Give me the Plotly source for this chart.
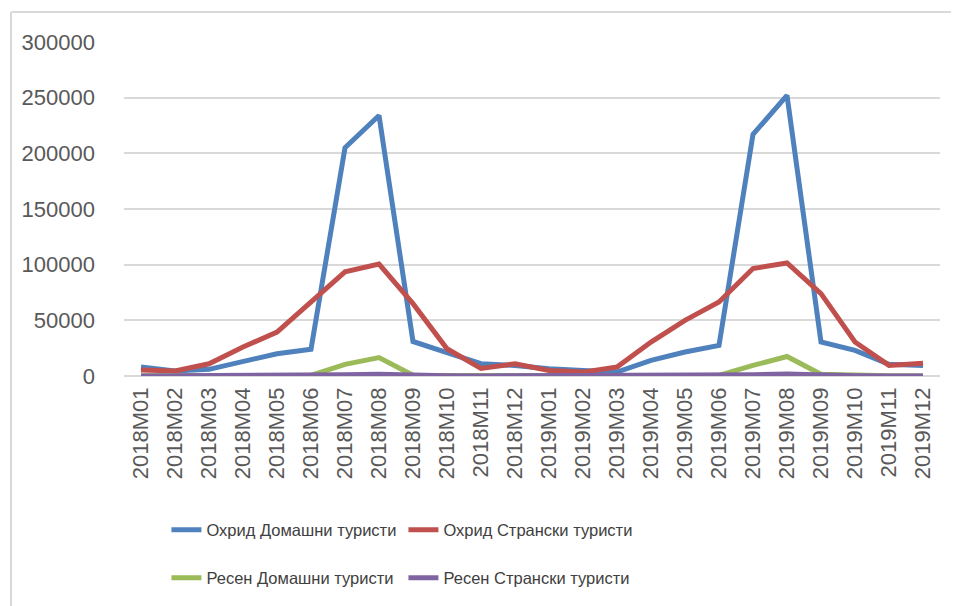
import plotly.graph_objects as go

months = [f"{y}M{m:02d}" for y in (2018, 2019) for m in range(1, 13)]

ohrid_dom = [8000, 4500, 6000, 12500, 20000, 24000, 205000, 234000, 31000, 21000, 11000, 9500,
             6500, 5000, 3500, 14000, 21500, 27500, 217000, 252000, 30500, 23000, 10500, 9500]
ohrid_str = [5500, 4500, 11000, 26000, 39500, 67000, 93500, 100500, 65000, 24500, 6800, 11000,
             5000, 3500, 8000, 30500, 50000, 66500, 96500, 101500, 74000, 30500, 9500, 11500]
resen_dom = [300, 200, 300, 400, 600, 500, 10500, 16500, 600, 300, 200, 200,
             300, 200, 300, 400, 600, 500, 9500, 17500, 1500, 500, 200, 200]
resen_str = [100, 100, 100, 200, 300, 400, 1200, 1600, 400, 200, 100, 100,
             100, 100, 100, 200, 300, 400, 1200, 1700, 500, 200, 100, 100]

names = ["Охрид Домашни туристи", "Охрид Странски туристи",
         "Ресен Домашни туристи", "Ресен Странски туристи"]
colors = ["#4F81BD", "#C0504D", "#9BBB59", "#8064A2"]
series = [ohrid_dom, ohrid_str, resen_dom, resen_str]
legends = ["legend", "legend", "legend2", "legend2"]

fig = go.Figure()
for nm, col, vals, lg in zip(names, colors, series, legends):
    fig.add_trace(go.Scatter(x=months, y=vals, name=nm, mode="lines",
                             line=dict(color=col, width=5), legend=lg))

font = "Liberation Sans, Arial, sans-serif"
leg = dict(orientation="h", xanchor="left", yanchor="middle", entrywidth=192, yref="container",
           font=dict(family=font, size=16.5, color="#404040"), bgcolor="rgba(0,0,0,0)")

# page body has an 8px margin, so offsets are shifted by 8px
fig.update_layout(
    width=959, height=606,
    margin=dict(l=116, r=27, t=34, b=238),
    plot_bgcolor="white", paper_bgcolor="white",
    font=dict(family=font, color="#595959"),
    legend=dict(leg, x=0.052, y=1 - 522 / 606),
    legend2=dict(leg, x=0.052, y=1 - 570 / 606),
    shapes=[dict(type="line", xref="paper", yref="paper", x0=-0.1385, x1=-0.1385,
                 y0=1.0898, y1=-0.72, line=dict(color="#D9D9D9", width=2)),
            dict(type="line", xref="paper", yref="paper", x0=-0.1385, x1=1.04,
                 y0=1.0898, y1=1.0898, line=dict(color="#D9D9D9", width=2))],
)
fig.update_xaxes(type="category", range=[-0.5, 23.5], tickangle=-90, showgrid=False,
                 showline=False, ticks="", ticklabelstandoff=6,
                 tickfont=dict(family=font, size=22, color="#595959"))
fig.update_yaxes(range=[0, 300000], dtick=50000, showgrid=True, gridcolor="#D9D9D9",
                 gridwidth=1.5, zeroline=True, zerolinecolor="#D9D9D9", zerolinewidth=1.5,
                 showline=False, ticks="", ticklabelstandoff=28, tickformat="d",
                 tickfont=dict(family=font, size=22, color="#595959"))

fig.write_html("out.html")
